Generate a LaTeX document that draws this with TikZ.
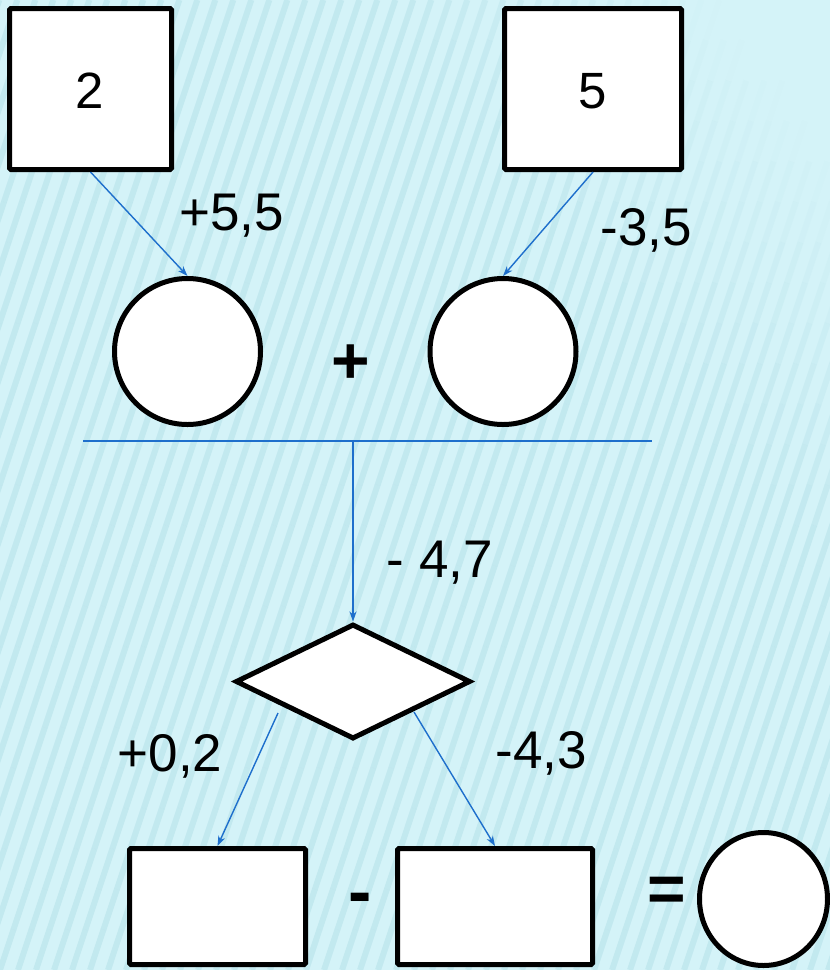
\documentclass[tikz,border=0pt]{standalone}
\usepackage{fontspec}
\setmainfont{Liberation Sans}
\usetikzlibrary{shapes.geometric,arrows.meta}
\definecolor{bgc}{HTML}{D4F3F8}
\definecolor{strc}{HTML}{9FD4DE}
\definecolor{lnc}{HTML}{1E6FCC}
\tikzset{
  box/.style={draw=black, fill=white, line width=5pt, rounded corners=1.5pt, inner sep=0pt},
  ring/.style={draw=black, fill=white, line width=5pt, circle, inner sep=0pt, minimum size=146pt},
  conn/.style={draw=lnc, line width=1.4pt},
  arr/.style={conn, -{Stealth[length=10pt,width=7pt,inset=3pt]}},
  lbl/.style={font=\fontsize{53}{60}\selectfont, anchor=base, inner sep=0pt},
  sym/.style={font=\fontsize{66}{70}\selectfont\bfseries, anchor=base, inner sep=0pt},
  stripe/.style={draw=strc, line width=6pt},
}
\begin{document}
\begin{tikzpicture}[x=1pt,y=-1pt]
\fill[bgc] (0,0) rectangle (830,970);
\useasboundingbox (0,0) rectangle (830,970);
\begin{scope}
  \clip (0,0) rectangle (830,970);
  \foreach \i in {-20,...,47}{
    \foreach \j in {0,...,23}{
      \pgfmathsetmacro\xa{\i*18 + \j*13.47}
      \pgfmathsetmacro\ya{970 - \j*40.42}
      \pgfmathsetmacro\xb{\xa+13.47}
      \pgfmathsetmacro\yb{\ya-40.42}
      \pgfmathsetmacro\vv{0.32*max(0,min(1,(700-(\xa+7)+0.8*(\ya-20))/320))}
      \draw[stripe, opacity=\vv] (\xa,\ya) -- (\xb,\yb);
    }
  }
\end{scope}

% top boxes
\node[box, minimum width=162pt, minimum height=161pt] (b2) at (90.5,89) {};
\node[lbl, font=\fontsize{51}{60}\selectfont] (t2) at (90,108) {2};
\node[box, minimum width=177pt, minimum height=161pt] (b5) at (593,89) {};
\node[lbl, font=\fontsize{51}{60}\selectfont] (t5) at (593,108) {5};

% circles
\node[ring] (c1) at (187.5,351.5) {};
\node[ring] (c2) at (503,351.5) {};
\node[sym] (plus) at (350.5,383) {+};

% arrows to circles
\draw[arr] (b2.south) -- (c1.north);
\draw[arr] (b5.south) -- (c2.north);
\node[lbl] (l1) at (231.5,230) {+5,5};
\node[lbl] (l2) at (646.5,245) {-3,5};

% horizontal bar and vertical arrow
\coordinate (hl) at (83,441);
\coordinate (hr) at (652,441);
\coordinate (hm) at (353,441);
\draw[conn] (hl) -- (hr);

\node[draw=black, fill=white, line width=5pt, diamond, inner sep=0pt,
      minimum width=235pt, minimum height=115pt] (dia) at (353,681.5) {};
\draw[arr] (hm) -- (dia.north);
\node[lbl] (l3) at (440,577) {- 4,7};

% bottom boxes
\node[box, minimum width=176pt, minimum height=116pt] (bb1) at (217.5,906.5) {};
\node[box, minimum width=195pt, minimum height=116pt] (bb2) at (495,906.5) {};
\node[draw=black, fill=white, line width=5pt, ellipse, inner sep=0pt,
      minimum width=128pt, minimum height=133pt] (el) at (763.5,899) {};

\coordinate (d1) at (278,713);
\coordinate (d2) at (414,712);
\draw[arr] (d1) -- (bb1.north);
\draw[arr] (d2) -- (bb2.north);
\node[lbl] (l4) at (170,771) {+0,2};
\node[lbl] (l5) at (541.5,768) {-4,3};

\node[lbl, font=\fontsize{70}{70}\selectfont\bfseries] (minus) at (360.5,915) {-};
\node[sym] (eq) at (666.5,911) {=};
\end{tikzpicture}
\end{document}
